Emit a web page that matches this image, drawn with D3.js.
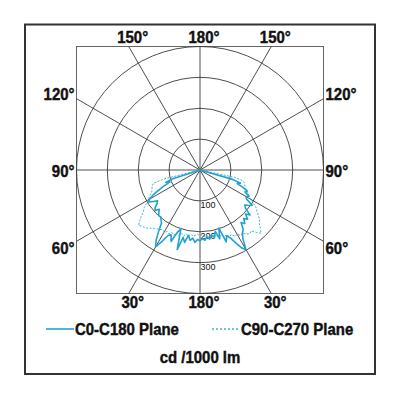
<!DOCTYPE html>
<html>
<head>
<meta charset="utf-8">
<script src="https://cdn.jsdelivr.net/npm/d3@7"></script>
<style>
  body { margin: 0; background: #fff; }
  svg text { font-family: "Liberation Sans", Arial, sans-serif; fill: #111; }
  svg text.heavy { stroke: #111; stroke-width: 0.45px; }
</style>
</head>
<body>
<div id="chart"></div>
<script>
// Data: angle measured from nadir (down = 0, right positive), value in cd/1000 lm
var solidAngles = [-90, -72, -70, -68, -66, -64, -62, -60, -58, -56, -54, -52, -50, -48, -46, -44, -42, -40,
    -38, -36, -34, -32, -30, -28, -26, -24, -22, -20, -18, -16, -14, -12, -10, -8, -6, -4, -2, 0,
    2, 4, 6, 8, 10, 12, 14, 16, 18, 20, 22, 24, 26, 28, 30, 32, 34, 36, 38, 40,
    42, 44, 46, 48, 50, 52, 54, 56, 58, 60, 62, 64, 66, 68, 70, 72, 74, 90];
var solidValues = [0, 95, 118, 105, 130, 150, 172, 188, 196, 182, 170, 176, 190, 196, 183, 192, 200, 198,
    205, 212, 240, 268, 288, 262, 236, 230, 250, 215, 200, 268, 225, 240, 215, 230, 222, 235, 225, 230,
    222, 228, 218, 226, 214, 222, 205, 232, 198, 248, 230, 240, 262, 285, 298, 262, 246, 238, 216, 226,
    212, 222, 205, 218, 192, 184, 196, 204, 178, 172, 180, 162, 168, 150, 128, 138, 110, 0];

var dottedAngles = [-90, -76, -74, -72, -70, -68, -66, -64, -62, -60, -58, -56, -54, -52, -50, -48, -46, -44,
    -42, -40, -38, -36, -34, -32, -30, -28, -26, -24, -22, -20, -18, -16, -14, -12, -10, -8, -6, -4, -2, 0,
    2, 4, 6, 8, 10, 12, 14, 16, 18, 20, 22, 24, 26, 28, 30, 32, 34, 36, 38, 40,
    42, 44, 46, 48, 50, 52, 54, 56, 58, 60, 62, 64, 66, 68, 70, 72, 74, 76, 78, 90];
var dottedValues = [0, 120, 157, 162, 165, 168, 171, 178, 186, 193, 205, 218, 226, 240, 255, 268, 262, 258,
    254, 246, 240, 236, 232, 228, 232, 226, 230, 222, 228, 218, 224, 214, 220, 212, 218, 210, 216, 212, 208, 214,
    210, 216, 212, 220, 214, 222, 218, 226, 220, 230, 226, 236, 232, 244, 240, 250, 246, 256, 262, 258,
    272, 285, 272, 258, 252, 240, 228, 220, 205, 190, 178, 170, 165, 160, 155, 152, 150, 140, 115, 0];

var ringValues = [100, 200, 300, 400];
var ringLabels = ["100", "200", "300"];
var gridAngles = [0, 30, 60, 90, 120, 150, 180, 210, 240, 270, 300, 330];
var gridLabels = ["180°", "30°", "60°", "90°", "120°", "150°", "180°", "150°", "120°", "90°", "60°", "30°"];
var seriesNames = ["C0-C180 Plane", "C90-C270 Plane"];
var unitLabel = "cd /1000 lm";

var W = 400, H = 400;
var cx = 200, cy = 170, half = 123.5;
var solidColor = "#22a2d0", dottedColor = "#3cb4d4";
var condense = 0.88;

var svg = d3.select("#chart").append("svg")
    .attr("width", W)
    .attr("height", H);

// outer frame
svg.append("rect")
    .attr("x", 25).attr("y", 24.5)
    .attr("width", 350).attr("height", 349.5)
    .attr("fill", "none")
    .attr("stroke", "#333")
    .attr("stroke-width", 2);

var r = d3.scaleLinear().domain([0, 400]).range([0, half]);

var g = svg.append("g").attr("transform", "translate(" + cx + "," + cy + ")");

// inner box
g.append("rect")
    .attr("x", -half).attr("y", -half)
    .attr("width", half * 2).attr("height", half * 2)
    .attr("fill", "none")
    .attr("stroke", "#666")
    .attr("stroke-width", 1);

// rings
g.selectAll("circle.ring")
    .data(ringValues)
    .enter().append("circle")
    .attr("class", "ring")
    .attr("r", function(d) { return r(d); })
    .attr("fill", "none")
    .attr("stroke", "#3a3a3a")
    .attr("stroke-width", 0.9);

// end of a spoke on the inner box
function spokeEnd(a) {
    var rad = a * Math.PI / 180;
    var sx = Math.sin(rad), sy = Math.cos(rad);
    var t = Math.min(Math.abs(sx) > 1e-6 ? half / Math.abs(sx) : Infinity,
                     Math.abs(sy) > 1e-6 ? half / Math.abs(sy) : Infinity);
    return { x: sx * t, y: sy * t, sx: sx, sy: sy };
}

g.selectAll("line.spoke")
    .data(gridAngles)
    .enter().append("line")
    .attr("class", "spoke")
    .attr("x1", 0).attr("y1", 0)
    .attr("x2", function(d) { return spokeEnd(d).x; })
    .attr("y2", function(d) { return spokeEnd(d).y; })
    .attr("stroke", "#3a3a3a")
    .attr("stroke-width", 0.9);

// spoke labels
g.selectAll("text.angle")
    .data(gridAngles)
    .enter().append("text")
    .attr("class", "angle heavy")
    .style("font-size", "17px")
    .style("font-weight", "bold")
    .each(function(d, i) {
        var e = spokeEnd(d);
        var t = d3.select(this).text(gridLabels[i]);
        if (Math.abs(e.y) >= half - 0.5 && Math.abs(e.sy) > 0.8) {
            t.attr("text-anchor", "middle").attr("x", e.x + 4);
            t.attr("y", e.y < 0 ? e.y - 3.5 : e.y + 14);
        } else {
            t.attr("text-anchor", e.x < 0 ? "end" : "start")
                .attr("x", e.x < 0 ? e.x - 2 : e.x + 2)
                .attr("y", e.y + 12 * e.sy + 7);
        }
        var len = this.getComputedTextLength();
        t.attr("textLength", len * condense).attr("lengthAdjust", "spacingAndGlyphs");
    });

// ring value labels
g.selectAll("text.ringlab")
    .data(ringLabels)
    .enter().append("text")
    .attr("class", "ringlab")
    .attr("x", 8)
    .attr("y", function(d) { return r(+d) + 7; })
    .attr("text-anchor", "middle")
    .style("font-size", "9px")
    .text(function(d) { return d; });

// curves
var radial = d3.lineRadial()
    .angle(function(d) { return Math.PI - d[0] * Math.PI / 180; })
    .radius(function(d) { return r(d[1]); });

var solidData = d3.zip(solidAngles, solidValues);
var dottedData = d3.zip(dottedAngles, dottedValues);

g.append("path")
    .datum(dottedData)
    .attr("d", radial)
    .attr("fill", "none")
    .attr("stroke", dottedColor)
    .attr("stroke-width", 1)
    .attr("stroke-dasharray", "2,1.5");

g.append("path")
    .datum(solidData)
    .attr("d", radial)
    .attr("fill", "none")
    .attr("stroke", solidColor)
    .attr("stroke-width", 1.6)
    .attr("stroke-linejoin", "round");

// legend
var legend = [
    { name: seriesNames[0], x: 46, color: solidColor, dash: null, w: 1.6 },
    { name: seriesNames[1], x: 212, color: dottedColor, dash: "2,2", w: 1.4 }
];
var lg = svg.selectAll("g.legend")
    .data(legend)
    .enter().append("g")
    .attr("class", "legend")
    .attr("transform", function(d) { return "translate(" + d.x + ",329)"; });

lg.append("line")
    .attr("x1", 0).attr("x2", 28)
    .attr("stroke", function(d) { return d.color; })
    .attr("stroke-width", function(d) { return d.w; })
    .attr("stroke-dasharray", function(d) { return d.dash; });

lg.append("text")
    .attr("class", "heavy")
    .attr("x", 29)
    .attr("y", 6)
    .style("font-size", "17px")
    .style("font-weight", "bold")
    .text(function(d) { return d.name; })
    .each(function() {
        d3.select(this).attr("textLength", this.getComputedTextLength() * condense)
            .attr("lengthAdjust", "spacingAndGlyphs");
    });

svg.append("text")
    .attr("class", "heavy")
    .attr("x", 200)
    .attr("y", 363)
    .attr("text-anchor", "middle")
    .style("font-size", "17px")
    .style("font-weight", "bold")
    .text(unitLabel)
    .each(function() {
        d3.select(this).attr("textLength", this.getComputedTextLength() * condense)
            .attr("lengthAdjust", "spacingAndGlyphs");
    });
</script>
</body>
</html>
